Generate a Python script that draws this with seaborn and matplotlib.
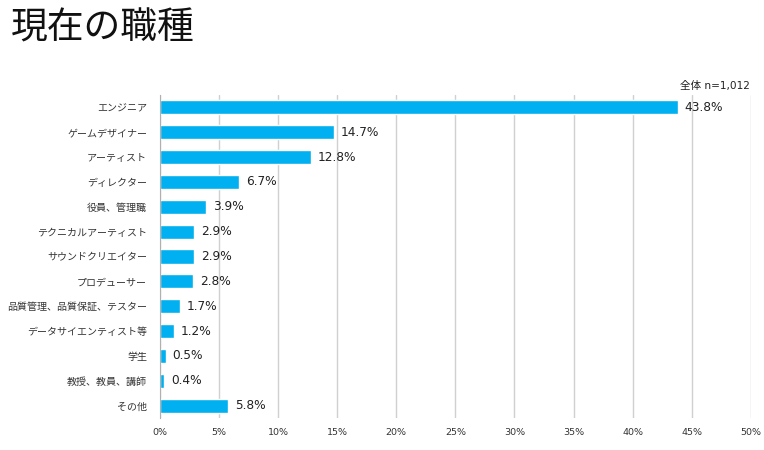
import numpy as np
import pandas as pd
import matplotlib
matplotlib.use("Agg")
import matplotlib.pyplot as plt
import seaborn as sns

# 現在の職種 (全体 n=1,012)
categories = ["エンジニア", "ゲームデザイナー", "アーティスト", "ディレクター", "役員、管理職",
              "テクニカルアーティスト", "サウンドクリエイター", "プロデューサー",
              "品質管理、品質保証、テスター", "データサイエンティスト等", "学生",
              "教授、教員、講師", "その他"]
shares = [43.8, 14.7, 12.8, 6.7, 3.9, 2.9, 2.9, 2.8, 1.7, 1.2, 0.5, 0.4, 5.8]
x_ticks = [0, 5, 10, 15, 20, 25, 30, 35, 40, 45, 50]

df = pd.DataFrame({"job": categories, "share": shares})

sns.set_style("white")
plt.rcParams['font.family'] = ['Noto Sans CJK JP', 'DejaVu Sans']

fig = plt.figure(figsize=(7.64, 4.5), dpi=100)
ax = fig.add_axes([0.209, 0.071, 0.774, 0.718])

sns.barplot(data=df, x="share", y="job", color="#00B0F0", saturation=1,
            width=0.57, ax=ax)

for i, v in enumerate(shares):
    ax.text(v + 0.6, i, f"{v:.1f}%", va="center", ha="left", fontsize=8.7,
            color="#222222", family="DejaVu Sans")

ax.set_xlim(0, 50)
ax.set_ylim(len(categories) - 0.5, -0.5)
ax.set_xticks(x_ticks)
ax.set_xticklabels([f"{t}%" for t in x_ticks], fontsize=6.8, color="#333333",
                   family="DejaVu Sans")
ax.tick_params(axis="y", labelsize=7.2, colors="#333333", length=0, pad=9)
ax.tick_params(axis="x", length=0, pad=7)
ax.set_xlabel("")
ax.set_ylabel("")
ax.xaxis.grid(True, color="#d0d0d0", linewidth=1)
ax.set_axisbelow(True)
for s in ["top", "right", "bottom"]:
    ax.spines[s].set_visible(False)
ax.spines["left"].set_color("#b0b0b0")

fig.text(0.014, 0.937, "現在の職種", fontsize=26.5, ha="left", va="center", color="#111111")
fig.text(0.982, 0.81, "全体 n=1,012", fontsize=7.6, ha="right", va="center", color="#222222",
         family=["DejaVu Sans", "Noto Sans CJK JP"])

fig.savefig("out.png", dpi=100)
